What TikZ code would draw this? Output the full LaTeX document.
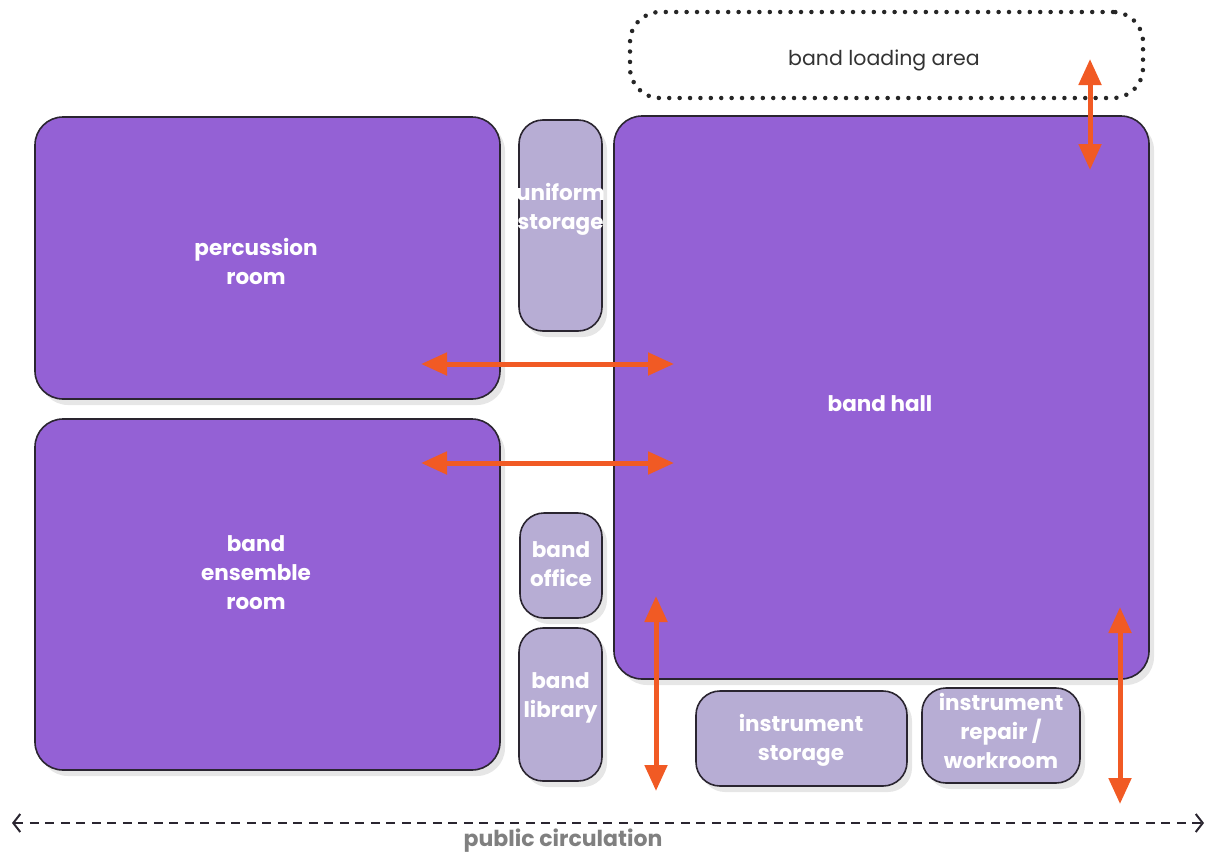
\documentclass[tikz,border=0pt]{standalone}
\usepackage{fontspec}
\setmainfont{Poppins}
\usetikzlibrary{arrows.meta,shadows}
\definecolor{roomA}{HTML}{9461D5}
\definecolor{roomB}{HTML}{B7ADD4}
\definecolor{edge}{HTML}{2A2530}
\definecolor{flow}{HTML}{F15A24}
\definecolor{txtgray}{HTML}{808080}
\tikzset{
  bigroom/.style={draw=edge, line width=1.6pt, fill=roomA, rounded corners=28pt,
     drop shadow={shadow xshift=5pt, shadow yshift=-6pt, opacity=0.2}},
  smallroom/.style={draw=edge, line width=1.6pt, fill=roomB, rounded corners=24pt,
     drop shadow={shadow xshift=5pt, shadow yshift=-6pt, opacity=0.2}},
  roomlabel/.style={text=white, font=\fontsize{21.5}{29}\selectfont\bfseries, align=center, inner sep=0pt},
  flowarrow/.style={draw=flow, line width=5pt, {Triangle[length=26pt,width=22pt]}-{Triangle[length=26pt,width=22pt]}},
}
\begin{document}
\begin{tikzpicture}[x=1pt,y=-1pt]
\useasboundingbox (0,0) rectangle (1215,854);
% loading area
\node[draw=black!85, line width=4.5pt, dash pattern=on 0pt off 10.4pt, line cap=round,
  rounded corners=30pt, minimum width=513pt, minimum height=86pt] (load) at (886.5,55) {};
\node[font=\fontsize{20.5}{24}\selectfont, text=black!80] (loadT) at (884,60) {band loading area};
% rooms
\path[bigroom] (35,117) rectangle (500,399);
\node[inner sep=0, minimum width=465pt, minimum height=282pt] (perc) at (267.5,258) {};
\node[roomlabel] (percT) at (256,261) {percussion\\room};
\path[bigroom] (35,419) rectangle (500,770);
\node[inner sep=0, minimum width=465pt, minimum height=351pt] (ens) at (267.5,594.5) {};
\node[roomlabel] (ensT) at (256,573) {band\\ensemble\\room};
\path[bigroom] (614,116) rectangle (1149,679);
\node[inner sep=0, minimum width=535pt, minimum height=563pt] (hall) at (881.5,397.5) {};
\node[roomlabel] (hallT) at (880,404) {band hall};
\path[smallroom] (519,120) rectangle (602,331);
\node[roomlabel] (unif) at (560.5,209) {uniform\\storage};
\path[smallroom] (520,513) rectangle (602,618);
\node[roomlabel] (office) at (561,564) {band\\office};
\path[smallroom] (519,628) rectangle (602,781);
\node[roomlabel] (lib) at (560.5,698) {band\\library};
\path[smallroom] (696,691) rectangle (907,786);
\node[roomlabel] (istore) at (801,740) {instrument\\storage};
\path[smallroom] (922,688) rectangle (1080,783);
\node[roomlabel] (repair) at (1001,731) {instrument\\repair /\\workroom};
% circulation
\coordinate (circL) at (12,823);
\coordinate (circR) at (1204,823);
\draw[edge, line width=2pt, dash pattern=on 9pt off 6.5pt,
  {Straight Barb[length=7pt,width=18pt,line width=2pt]}-{Straight Barb[length=7pt,width=18pt,line width=2pt]}] (circL) -- (circR);
\node[text=txtgray, font=\fontsize{22}{24}\selectfont\bfseries] (circT) at (563,841) {public circulation};
% flow arrows
\coordinate (h1a) at (421,364); \coordinate (h1b) at (674,364);
\coordinate (h2a) at (421,463); \coordinate (h2b) at (674,463);
\coordinate (v1a) at (1090,59); \coordinate (v1b) at (1090,170);
\coordinate (v2a) at (656,596); \coordinate (v2b) at (656,791);
\coordinate (v3a) at (1120,607); \coordinate (v3b) at (1120,804);
\draw[flowarrow] (h1a) -- (h1b);
\draw[flowarrow] (h2a) -- (h2b);
\draw[flowarrow] (v1a) -- (v1b);
\draw[flowarrow] (v2a) -- (v2b);
\draw[flowarrow] (v3a) -- (v3b);
\end{tikzpicture}
\end{document}
